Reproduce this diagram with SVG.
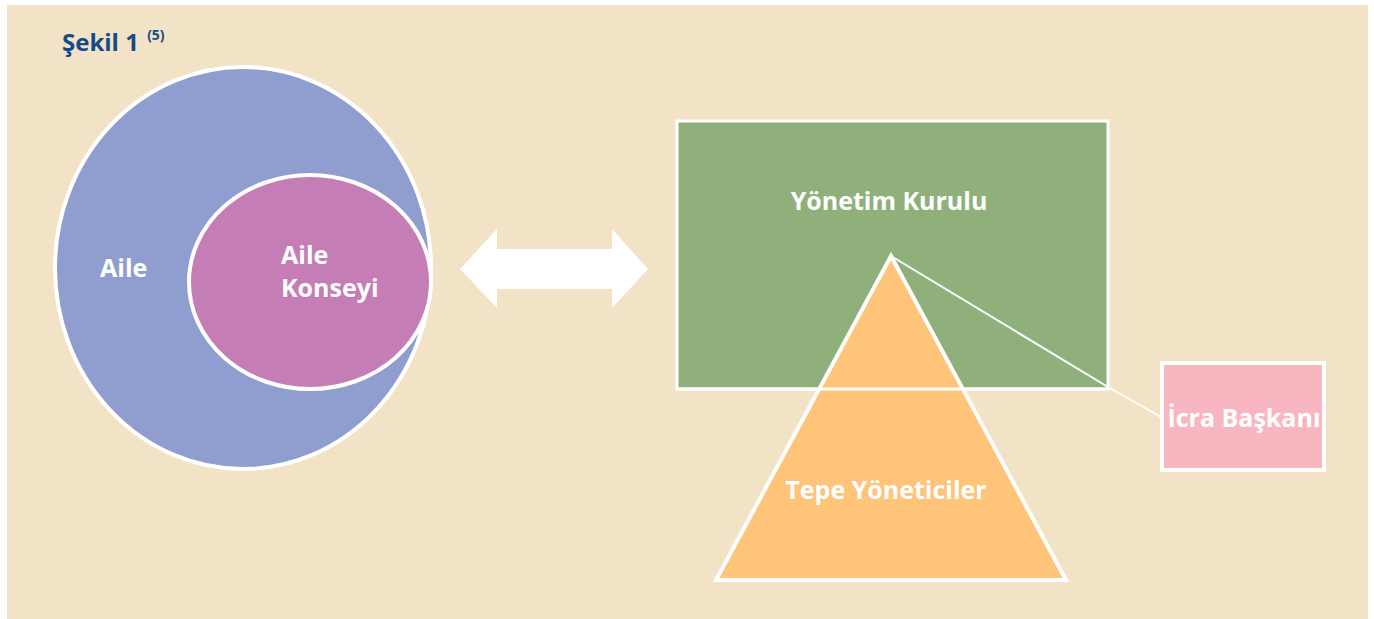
<svg xmlns="http://www.w3.org/2000/svg" width="1374" height="619" viewBox="0 0 1374 619">
<style>
.lbl{font-family:"Open Sans","Liberation Sans",sans-serif;font-weight:bold;fill:#ffffff;font-size:25px}
.w{stroke:#ffffff;stroke-width:4}
</style>
<rect x="0" y="0" width="1374" height="619" fill="#ffffff"/>
<rect x="7" y="5" width="1361" height="614" fill="#F2E3C6"/>
<g id="title">
<text x="62" y="51" font-family="'Open Sans','Liberation Sans',sans-serif" font-weight="bold" font-size="24" fill="#134B8A">Şekil 1 <tspan font-size="14" dx="2" dy="-11">(5)</tspan></text>
</g>
<g id="aile">
<ellipse cx="243" cy="268" rx="188" ry="201" fill="#8F9DCF" class="w"/>
<text class="lbl" x="100" y="277">Aile</text>
</g>
<g id="aile-konseyi">
<ellipse cx="310" cy="282" rx="121" ry="107" fill="#C57DB5" class="w"/>
<text class="lbl" x="281" y="264">Aile</text>
<text class="lbl" x="281" y="297">Konseyi</text>
</g>
<g id="yonetim-kurulu">
<rect x="677" y="121" width="431" height="268" fill="#8FB07B" stroke="#ffffff" stroke-width="3"/>
<text class="lbl" x="889" y="210" text-anchor="middle">Yönetim Kurulu</text>
</g>
<g id="tepe-yoneticiler">
<polygon points="891,256 1066,580 716,580" fill="#FDC47A" class="w"/>
<line x1="677" y1="389" x2="1108" y2="389" stroke="#ffffff" stroke-width="3"/>
<text class="lbl" x="886" y="499" text-anchor="middle">Tepe Yöneticiler</text>
</g>
<g id="icra-baskani">
<rect x="1162" y="363" width="162" height="107" fill="#F8B7C0" stroke="#ffffff" stroke-width="4"/>
<text class="lbl" x="1244" y="427" text-anchor="middle">İcra Başkanı</text>
</g>
<g id="connectors">
<polygon points="460,269 497,229 497,249 612,249 612,229 648,269 612,308 612,289 497,289 497,308" fill="#ffffff"/>
<polyline points="891,256 1108,387 1161,417" fill="none" stroke="#ffffff" stroke-width="2"/>
</g>
</svg>
